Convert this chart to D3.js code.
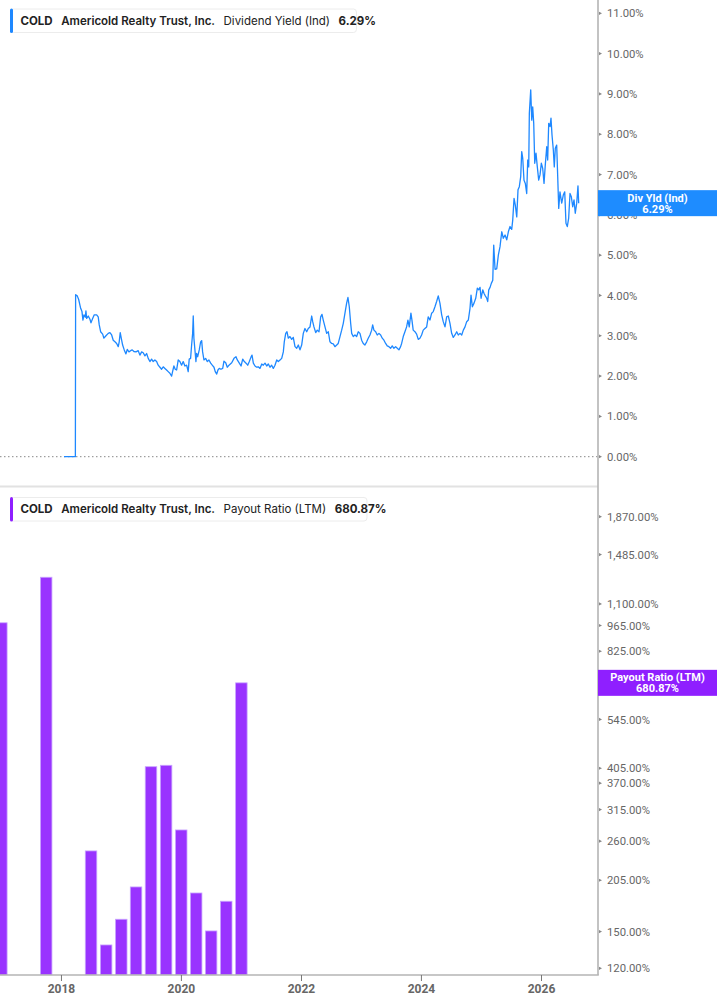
<!DOCTYPE html>
<html><head><meta charset="utf-8">
<script src="https://cdn.jsdelivr.net/npm/d3@7/dist/d3.min.js"></script>
<style>
html,body{margin:0;padding:0;background:#fff;}
svg{display:block;}
</style></head>
<body>
<svg id="c" width="717" height="1005"></svg>
<script>
// ---------- DATA ----------
const ticker = "COLD";
const company = "Americold Realty Trust, Inc.";
const yieldName = "Dividend Yield (Ind)";
const yieldLast = "6.29%";
const yieldTag = "Div Yld (Ind)";
const payoutName = "Payout Ratio (LTM)";
const payoutLast = "680.87%";
const payoutLastValue = 680.87;

const yieldTicks = [0,1,2,3,4,5,6,7,8,9,10,11];
const payoutTicks = [120,150,205,260,315,370,405,545,685,825,965,1100,1485,1870];
const xTickYears = [2018,2020,2022,2024,2026];

// payout ratio (LTM), quarter ends
const payoutDates = ["2016-12-31","2017-09-30","2018-06-30","2018-09-30","2018-12-31","2019-03-31","2019-06-30","2019-09-30","2019-12-31","2020-03-31","2020-06-30","2020-09-30","2020-12-31"];
const payoutValues = [981,1294,245,138.3,161.7,196.8,408.9,412.4,278.3,189.7,150.6,180.4,680.87];

// dividend yield (%) : [decimal year, value]
const yieldSeries = [
[2018.042,0],[2018.232,0],[2018.236,4.02],[2018.263,3.99],[2018.287,3.90],[2018.320,3.68],[2018.342,3.60],[2018.358,3.39],[2018.375,3.52],[2018.397,3.46],[2018.408,3.62],[2018.420,3.43],[2018.447,3.49],[2018.475,3.41],[2018.492,3.32],[2018.520,3.43],[2018.547,3.52],[2018.587,3.52],[2018.613,3.47],[2018.630,3.27],[2018.653,3.10],[2018.687,3.04],[2018.708,2.94],[2018.742,3.00],[2018.780,3.06],[2018.808,3.08],[2018.837,3.02],[2018.863,2.89],[2018.892,2.85],[2018.920,2.81],[2018.947,2.73],[2018.963,2.85],[2018.980,3.08],[2018.997,2.94],
[2019.020,2.77],[2019.047,2.65],[2019.075,2.55],[2019.097,2.66],[2019.125,2.60],[2019.153,2.63],[2019.180,2.65],[2019.208,2.61],[2019.242,2.60],[2019.280,2.63],[2019.308,2.52],[2019.337,2.60],[2019.363,2.58],[2019.392,2.50],[2019.420,2.56],[2019.447,2.44],[2019.475,2.36],[2019.503,2.42],[2019.530,2.36],[2019.558,2.40],[2019.587,2.36],[2019.613,2.27],[2019.642,2.22],[2019.670,2.17],[2019.697,2.23],[2019.725,2.19],[2019.753,2.15],[2019.780,2.11],[2019.808,2.07],[2019.837,2.00],[2019.853,2.11],[2019.875,2.25],[2019.897,2.17],[2019.920,2.15],[2019.947,2.40],[2019.975,2.36],
[2020.003,2.27],[2020.030,2.36],[2020.058,2.25],[2020.087,2.27],[2020.113,2.11],[2020.130,2.42],[2020.153,2.44],[2020.170,2.77],[2020.187,3.06],[2020.197,3.49],[2020.208,2.94],[2020.225,2.65],[2020.242,2.36],[2020.253,2.56],[2020.270,2.48],[2020.297,2.65],[2020.320,2.85],[2020.337,2.88],[2020.353,2.60],[2020.375,2.40],[2020.403,2.44],[2020.430,2.36],[2020.458,2.40],[2020.487,2.32],[2020.513,2.27],[2020.542,2.22],[2020.563,2.11],[2020.587,2.05],[2020.608,2.15],[2020.630,2.19],[2020.658,2.17],[2020.687,2.19],[2020.708,2.37],[2020.737,2.33],[2020.763,2.22],[2020.792,2.27],[2020.837,2.33],[2020.875,2.44],[2020.908,2.48],[2020.930,2.40],[2020.963,2.32],[2020.992,2.25],
[2021.020,2.42],[2021.047,2.36],[2021.075,2.32],[2021.103,2.27],[2021.130,2.36],[2021.158,2.47],[2021.175,2.52],[2021.197,2.32],[2021.225,2.25],[2021.253,2.22],[2021.280,2.23],[2021.308,2.19],[2021.337,2.30],[2021.363,2.27],[2021.392,2.32],[2021.420,2.25],[2021.447,2.30],[2021.475,2.22],[2021.503,2.27],[2021.530,2.19],[2021.558,2.27],[2021.587,2.40],[2021.613,2.36],[2021.642,2.40],[2021.670,2.44],[2021.697,2.60],[2021.713,2.85],[2021.737,3.06],[2021.758,3.10],[2021.780,2.94],[2021.808,2.98],[2021.837,2.91],[2021.863,2.96],[2021.892,2.73],[2021.920,2.69],[2021.947,2.77],[2021.975,2.65],
[2022.003,2.77],[2022.030,3.06],[2022.058,3.18],[2022.087,3.10],[2022.113,3.18],[2022.142,3.22],[2022.170,3.49],[2022.187,3.35],[2022.208,3.22],[2022.237,3.08],[2022.263,3.14],[2022.292,3.10],[2022.320,3.47],[2022.342,3.53],[2022.363,3.39],[2022.392,3.22],[2022.420,3.06],[2022.447,3.10],[2022.475,2.85],[2022.503,2.81],[2022.530,2.80],[2022.558,2.73],[2022.587,2.77],[2022.613,2.81],[2022.642,2.98],[2022.670,3.14],[2022.697,3.31],[2022.725,3.56],[2022.753,3.81],[2022.775,3.95],[2022.797,3.72],[2022.820,3.31],[2022.837,3.06],[2022.863,2.98],[2022.892,3.02],[2022.920,2.98],[2022.947,3.10],[2022.975,3.06],
[2023.003,2.89],[2023.030,2.81],[2023.058,2.77],[2023.087,2.85],[2023.113,2.94],[2023.142,3.02],[2023.170,3.14],[2023.187,3.27],[2023.208,3.14],[2023.237,3.10],[2023.263,3.02],[2023.292,3.06],[2023.320,3.02],[2023.347,2.94],[2023.375,2.89],[2023.403,2.81],[2023.430,2.75],[2023.458,2.73],[2023.487,2.69],[2023.513,2.75],[2023.542,2.69],[2023.570,2.73],[2023.597,2.69],[2023.625,2.65],[2023.653,2.73],[2023.670,2.81],[2023.697,2.98],[2023.725,3.10],[2023.753,3.22],[2023.775,3.39],[2023.797,3.22],[2023.825,3.56],[2023.842,3.39],[2023.863,3.14],[2023.892,3.10],[2023.920,3.04],[2023.947,2.91],[2023.975,2.94],
[2024.003,3.02],[2024.030,3.14],[2024.058,3.18],[2024.087,3.22],[2024.113,3.47],[2024.142,3.39],[2024.170,3.56],[2024.197,3.60],[2024.225,3.72],[2024.253,3.85],[2024.280,3.99],[2024.308,3.81],[2024.337,3.52],[2024.363,3.35],[2024.392,3.22],[2024.420,3.47],[2024.447,3.49],[2024.475,3.31],[2024.503,3.06],[2024.530,2.96],[2024.558,3.02],[2024.587,3.10],[2024.613,3.02],[2024.642,3.06],[2024.670,3.02],[2024.697,3.14],[2024.725,3.22],[2024.753,3.35],[2024.780,3.39],[2024.808,3.68],[2024.825,4.01],[2024.847,3.72],[2024.875,3.81],[2024.903,3.93],[2024.930,4.18],[2024.953,4.14],[2024.975,4.20],[2024.992,3.93],
[2025.020,4.14],[2025.042,4.05],[2025.063,3.99],[2025.087,3.93],[2025.103,3.85],[2025.120,4.14],[2025.142,4.20],[2025.163,4.30],[2025.187,4.38],[2025.203,5.25],[2025.225,4.65],[2025.253,4.66],[2025.280,5.00],[2025.308,5.21],[2025.337,5.58],[2025.363,5.42],[2025.392,5.50],[2025.420,5.38],[2025.447,5.58],[2025.475,5.71],[2025.503,5.64],[2025.520,5.87],[2025.542,6.41],[2025.563,6.24],[2025.587,5.95],[2025.608,6.62],[2025.630,6.70],[2025.653,6.95],[2025.670,7.57],[2025.687,7.40],[2025.708,6.86],[2025.730,6.78],[2025.753,6.53],[2025.770,7.36],[2025.787,7.19],[2025.797,8.52],[2025.820,9.10],[2025.837,8.35],[2025.853,8.68],[2025.870,8.27],[2025.887,7.28],[2025.908,7.53],[2025.930,7.19],[2025.953,6.86],[2025.975,6.99],[2025.997,7.28],
[2026.020,7.15],[2026.042,6.78],[2026.063,7.24],[2026.087,7.69],[2026.103,7.36],[2026.120,8.27],[2026.142,8.19],[2026.158,8.40],[2026.175,7.98],[2026.197,7.61],[2026.213,7.19],[2026.230,7.65],[2026.253,7.73],[2026.270,6.95],[2026.287,6.16],[2026.308,6.57],[2026.337,6.29],[2026.363,6.49],[2026.387,6.57],[2026.408,5.79],[2026.430,5.71],[2026.453,5.92],[2026.475,6.53],[2026.497,6.45],[2026.520,6.20],[2026.542,6.37],[2026.563,6.04],[2026.587,6.29],[2026.608,6.72],[2026.620,6.29]
];

// ---------- HELPERS ----------
function dec(t){const y=Math.floor(t);const s=Date.UTC(y,0,1),e=Date.UTC(y+1,0,1);return new Date(s+(t-y)*(e-s));}
const parse = d3.utcParse("%Y-%m-%d");

// ---------- LAYOUT ----------
const W = 717, plotR = 598;
const topPane = {y0:0, y1:486};
const botPane = {y0:487, y1:975};
const BLUE = "#1e88ff", PURPLE = "#9933ff";
const AXC = "#b4b4b4", TXT = "#666";
const TAGH = 26;

const svg = d3.select("#c");

const x = d3.scaleUtc().domain([dec(2016.975), dec(2026.942)]).range([0, plotR]);
const yT = d3.scaleLinear().domain([0, 11]).range([456.7, 13.3]);
const yB = d3.scaleLog().domain([120, 1870]).range([968.3, 516.7]);

svg.append("defs").call(d=>{
  d.append("clipPath").attr("id","clipT").append("rect").attr("x",0).attr("y",topPane.y0).attr("width",plotR).attr("height",topPane.y1-topPane.y0);
  d.append("clipPath").attr("id","clipB").append("rect").attr("x",0).attr("y",botPane.y0).attr("width",plotR).attr("height",botPane.y1-botPane.y0);
});

// zero dotted line
svg.append("line").attr("x1",0).attr("x2",plotR).attr("y1",yT(0)).attr("y2",yT(0))
  .attr("stroke","#888").attr("stroke-width",1).attr("stroke-dasharray","1.5,2.5");

// yield line
const line = d3.line().x(d=>x(dec(d[0]))).y(d=>yT(d[1]));
svg.append("path").datum(yieldSeries).attr("clip-path","url(#clipT)")
  .attr("d",line).attr("fill","none").attr("stroke",BLUE).attr("stroke-width",1.3).attr("stroke-linejoin","round");

// bars
const bw = 11.5;
svg.append("g").attr("clip-path","url(#clipB)").selectAll("rect")
  .data(payoutDates.map((d,i)=>({d:parse(d),v:payoutValues[i]})))
  .join("rect")
  .attr("x",d=>x(d.d)-bw/2).attr("width",bw)
  .attr("y",d=>yB(d.v)).attr("height",d=>botPane.y1-yB(d.v))
  .attr("fill",PURPLE).attr("stroke","#c8a4ff").attr("stroke-width",0.8);

// pane separator
svg.append("line").attr("x1",0).attr("x2",plotR).attr("y1",486.5).attr("y2",486.5).attr("stroke","#e2e2e2").attr("stroke-width",2);
// right axis line
svg.append("line").attr("x1",plotR).attr("x2",plotR).attr("y1",0).attr("y2",botPane.y1).attr("stroke",AXC).attr("stroke-width",1.6);
// bottom axis line
svg.append("line").attr("x1",0).attr("x2",plotR+0.8).attr("y1",botPane.y1).attr("y2",botPane.y1).attr("stroke",AXC).attr("stroke-width",1.6);

// right axes (labels fully hidden behind a value tag are not drawn)
const fmtPct = v => d3.format(",.2f")(v) + "%";
function rightAxis(scale, ticks, tagY){
  const g = svg.append("g");
  ticks.forEach(t=>{
    const yy = scale(t);
    g.append("path").attr("d",`M${plotR+1},${yy-1.6}L${plotR+4},${yy}L${plotR+1},${yy+1.6}Z`).attr("fill","#888");
    if (Math.abs(yy - tagY) < TAGH/2 - 4) return;
    g.append("text").attr("x",607).attr("y",yy).attr("dy","0.36em")
      .attr("font-family","Roboto, 'Noto Sans', sans-serif").attr("font-size",11.3).attr("fill",TXT).text(fmtPct(t));
  });
}
const yieldTagY = yT(yieldSeries[yieldSeries.length-1][1]);
const payoutTagY = yB(payoutLastValue);
rightAxis(yT, yieldTicks, yieldTagY);
rightAxis(yB, payoutTicks, payoutTagY);

// x axis
const gx = svg.append("g");
xTickYears.forEach(yr=>{
  const xx = x(dec(yr));
  gx.append("line").attr("x1",xx).attr("x2",xx).attr("y1",botPane.y1).attr("y2",botPane.y1+6).attr("stroke","#777").attr("stroke-width",1);
  gx.append("text").attr("x",xx).attr("y",989).attr("dy","0.36em").attr("text-anchor","middle")
    .attr("font-family","Roboto, 'Noto Sans', sans-serif").attr("font-weight",700).attr("font-size",12).attr("fill",TXT).text(yr);
});

// value tags on right axis
function tag(yCenter, color, l1, l2){
  svg.append("rect").attr("x",plotR).attr("y",yCenter-TAGH/2).attr("width",W-plotR).attr("height",TAGH).attr("fill",color);
  const cx = (plotR+W)/2;
  svg.append("text").attr("x",cx).attr("y",yCenter-5.5).attr("dy","0.36em").attr("text-anchor","middle")
    .attr("font-family","Roboto, 'Noto Sans', sans-serif").attr("font-weight",700).attr("font-size",11).attr("fill","#fff").text(l1);
  svg.append("text").attr("x",cx).attr("y",yCenter+5.5).attr("dy","0.36em").attr("text-anchor","middle")
    .attr("font-family","Roboto, 'Noto Sans', sans-serif").attr("font-weight",700).attr("font-size",11).attr("fill","#fff").text(l2);
}
tag(yieldTagY, "#1e8cff", yieldTag, yieldLast);
tag(payoutTagY, "#8f1fff", payoutName, payoutLast);

// legends
function legend(y0, color, metric, val){
  const g = svg.append("g");
  const bg = g.append("rect").attr("x",10.5).attr("y",y0+0.5).attr("height",23.5).attr("rx",3)
    .attr("fill","#fff").attr("stroke","#ececec");
  const t = g.append("text").attr("x",20.5).attr("y",y0+16.3)
    .attr("font-family","Inter, 'Noto Sans', sans-serif").attr("font-size",11.5).attr("fill","#222");
  t.append("tspan").attr("font-weight",700).text(ticker);
  t.append("tspan").attr("dx",8.5).attr("font-weight",600).text(company);
  t.append("tspan").attr("dx",8.5).attr("font-weight",400).text(metric);
  t.append("tspan").attr("dx",8.5).attr("font-weight",700).text(val);
  const w = t.node().getComputedTextLength();
  bg.attr("width", w + 16);
  g.append("rect").attr("x",10).attr("y",y0).attr("width",3).attr("height",24.5).attr("rx",1.5).attr("fill",color);
}
legend(8.5, BLUE, yieldName, yieldLast);
legend(497, "#8f1fff", payoutName, payoutLast);
</script>
</body></html>
